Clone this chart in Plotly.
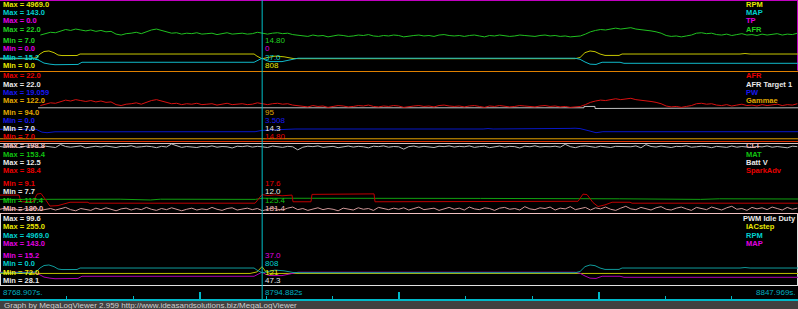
import numpy as np
import plotly.graph_objects as go

W, H = 798, 309

# ---------------- data ----------------
T0 = 8768.907          # first timestamp in view (s)
T1 = 8847.969          # last timestamp in view (s)
T_CURSOR = 8794.882    # cursor position (s)

NOISY_DT = 0.5         # sample spacing of the noisy channels (s)
AFR_START = 4.0        # AFR logging starts 4 s into the view

afr = [14.6, 14.9, 15.2, 15.1, 15.4,
       15.8, 15.6, 15.9, 15.7,
       15.5, 15.7, 15.4, 15.6, 15.3, 15.4,
       14.8, 14.6, 14.9,
       15.0, 15.2, 14.9, 15.3,
       15.7, 15.9, 15.6, 15.3,
       15.0, 15.1, 14.8, 15.0, 14.9, 15.1, 14.8,
       14.9, 15.0, 14.7, 14.9, 15.1, 14.8, 14.9, 15.0, 14.8, 14.9, 15.2, 15.0,
       14.8, 15.0, 15.1, 14.9, 15.0, 14.7, 14.6,
       14.5, 14.3, 14.6, 14.4, 14.5, 14.2, 14.4, 14.6, 14.5, 14.3,
       14.4, 14.6, 14.5, 14.7, 14.4, 14.3, 14.5, 14.4, 14.6, 14.5,
       14.2, 14.4, 14.5, 14.6, 14.4, 14.5, 14.3, 14.6, 14.7, 14.5,
       14.4, 14.5, 14.3, 14.5, 14.6, 14.4, 14.2, 14.5, 14.4, 14.6,
       14.5, 14.3, 14.4, 14.6, 14.5, 14.4, 14.3, 14.5, 14.6, 14.4,
       14.5, 14.3, 14.4, 14.2, 14.3, 14.4,
       14.8, 15.3,
       15.6, 15.8, 15.7, 15.9, 16.1, 15.9, 16.0, 16.2, 15.9, 15.8, 15.6, 15.5, 15.3, 15.0,
       14.5, 14.3, 14.4, 14.2, 14.4, 14.6,
       15.0, 15.1, 14.9, 15.0,
       14.7, 14.6, 14.8, 14.5, 14.7, 14.9, 14.6, 14.7, 14.5, 14.8, 14.6, 14.7, 14.9,
       14.6, 14.8, 14.7, 15.0]

batt_v = [12.26, 12.21, 12.29, 12.24, 12.18, 12.27, 12.31, 12.23, 12.20, 12.28,
          12.25, 12.19, 12.40, 12.26, 12.21, 12.24, 12.30, 12.17, 12.25, 12.28,
          12.22, 12.29, 12.24, 12.19, 12.27, 12.25, 12.31, 12.21, 12.24, 12.28,
          12.25, 12.18, 12.27, 12.23, 12.43, 12.29, 12.20, 12.26, 12.24, 12.19,
          12.27, 12.23, 12.30, 12.21, 12.26, 12.24, 12.16, 12.28, 12.25, 12.30,
          12.22, 12.27, 12.24, 12.19, 12.29, 12.25, 12.20, 12.27, 12.24, 12.03,
          12.21, 12.28, 12.25, 12.30, 12.20, 12.24, 12.27, 12.18, 12.25, 12.29,
          12.22, 12.27, 12.24, 12.17, 12.28, 12.25, 12.30, 12.21, 12.26, 12.24,
          12.08, 12.25, 12.29, 12.21, 12.27, 12.24, 12.19, 12.28, 12.25, 12.30,
          12.22, 12.27, 12.24, 12.30, 12.20, 12.25, 12.28, 12.18, 12.24, 12.29,
          12.21, 12.27, 12.25, 12.16, 12.28, 12.24, 12.31, 12.22, 12.26, 12.24,
          12.28, 12.21, 12.41, 12.25, 12.18, 12.27, 12.30, 12.23, 12.20, 12.28,
          12.25, 12.19, 12.27, 12.26, 12.21, 12.24, 12.30, 12.17, 12.39, 12.26,
          12.22, 12.29, 12.24, 12.19, 12.27, 12.25, 12.31, 12.21, 12.24, 12.28,
          12.25, 12.18, 12.27, 12.23, 12.20, 12.29, 12.21, 12.26, 12.24, 12.19,
          12.27, 12.23, 12.30, 12.21, 12.26, 12.24, 12.17, 12.28, 12.25]

clt = [181.0, 181.3, 180.8, 181.1, 180.6, 181.2, 180.9, 181.4, 180.7, 181.0,
       181.2, 180.8, 181.1, 181.5, 180.9, 180.6, 181.2, 181.0, 180.7, 181.3,
       180.9, 181.4, 181.0, 180.6, 181.1, 181.3, 180.8, 181.2, 180.9, 181.5,
       181.0, 180.7, 181.2, 180.9, 181.4, 181.1, 180.6, 181.0, 181.3, 180.8,
       181.1, 180.9, 181.5, 181.0, 180.7, 181.2, 181.4, 180.8, 181.0, 181.3,
       180.9, 181.2, 180.6, 181.1, 181.4, 181.0, 180.8, 181.3, 181.6, 180.9,
       181.2, 180.7, 181.1, 181.4, 180.9, 181.2, 181.0, 180.6, 181.3, 181.1,
       180.8, 181.4, 181.0, 181.2, 180.7, 181.5, 181.1, 180.9, 181.3, 181.0,
       181.4, 180.8, 181.2, 181.6, 180.9, 181.1, 181.3, 180.7, 181.2, 181.5,
       181.0, 181.3, 180.8, 181.6, 181.1, 180.9, 181.4, 181.2, 180.7, 181.3,
       181.5, 181.0, 181.2, 180.8, 181.7, 181.1, 180.9, 181.4, 181.2, 181.6,
       180.8, 181.3, 181.1, 181.7, 180.9, 181.2, 181.5, 180.8, 181.4, 181.1,
       181.6, 181.0, 180.7, 181.3, 181.8, 181.1, 180.9, 181.5, 181.2, 180.8,
       181.4, 181.7, 181.0, 180.8, 181.3, 181.6, 181.1, 180.7, 181.5, 181.2,
       180.9, 181.6, 181.3, 180.8, 181.4, 181.8, 181.0, 181.2, 180.7, 181.5,
       181.1, 181.4, 180.9, 181.6, 181.2, 180.8, 181.5, 181.0, 181.3]

# breakpoint channels: seconds after T0, value
rpm_t = [0.0, 2.97, 3.57, 3.96, 4.36, 4.85, 5.35, 5.75, 6.14, 7.63, 7.93, 14.86, 15.26,
         15.65, 25.17, 25.46, 25.96, 26.55, 27.25, 28.14, 29.03, 29.72, 40.62, 41.61,
         42.60, 56.97, 57.47, 57.96, 58.46, 58.95, 59.45, 59.94, 61.33, 61.63, 73.32,
         73.81, 74.31, 79.06]
rpm = [810, 815, 880, 1150, 1330, 1370, 1250, 1080, 1040, 1045, 1150, 1155, 1180,
       1150, 1150, 1000, 808, 900, 1000, 950, 830, 815, 810, 830,
       810, 815, 900, 1250, 1370, 1320, 1150, 1050, 1050, 1150, 1150,
       1185, 1150, 1150]

map_t = [0.0, 3.27, 3.77, 4.36, 4.95, 5.45, 7.73, 8.12, 25.17, 25.56, 25.96, 26.35,
         26.75, 27.94, 28.93, 29.53, 56.97, 57.47, 57.96, 58.46, 59.05, 59.65, 61.43,
         61.82, 79.06]
map_kpa = [37.0, 37.0, 34.0, 28.0, 26.0, 25.0, 25.5, 29.5, 29.5, 33.0, 37.0, 33.0,
           30.8, 30.8, 35.0, 37.0, 37.0, 35.0, 30.0, 26.0, 25.5, 29.5, 29.5,
           27.6, 27.6]

afr_tgt_t = [3.77, 5.55, 5.55, 7.43, 7.43, 57.86, 57.86, 58.95, 58.95, 61.23, 61.23, 79.06]
afr_tgt = [14.1, 14.1, 13.95, 13.95, 14.1, 14.1, 14.4, 14.4, 13.95, 13.95, 14.1, 14.1]

pw_t = [0.0, 3.57, 4.16, 4.66, 5.45, 25.27, 25.96, 27.25, 29.23, 47.86, 48.35, 48.85,
        52.02, 52.31, 53.50, 54.00, 56.48, 56.97, 57.47, 58.46, 59.05, 59.74, 79.06]
pw = [3.0, 3.0, 2.2, 2.05, 2.3, 2.33, 2.7, 2.85, 3.08, 3.08, 3.2, 3.08,
      3.08, 3.25, 3.25, 3.2, 3.25, 3.3, 3.2, 2.5, 2.05, 2.33, 2.33]

gammae_t = [0.0, 79.06]
gammae = [94.5, 94.5]

spark_t = [0.0, 1.88, 2.08, 3.27, 3.67, 4.06, 4.46, 4.95, 5.75, 6.44, 6.94, 8.72, 8.82,
           25.27, 25.66, 25.96, 26.55, 27.25, 27.94, 28.93, 29.03, 30.81, 30.91, 32.80,
           32.89, 37.06, 37.15, 57.27, 57.76, 58.16, 58.75, 59.25, 59.94, 60.64, 62.42,
           62.62, 79.06]
spark = [16.6, 16.6, 13.8, 13.8, 17.0, 17.3, 15.0, 12.0, 12.2, 13.0, 13.6, 13.6, 13.2,
         13.2, 15.5, 16.8, 16.4, 16.7, 16.3, 16.6, 13.8, 13.8, 16.9, 16.9,
         17.1, 17.1, 13.8, 14.0, 17.0, 16.8, 13.5, 11.8, 12.5, 13.6, 13.6,
         13.2, 13.2]

mat_t = [0.0, 11.9, 14.9, 15.9, 25.3, 26.0, 47.6, 55.5, 61.4, 69.4, 71.3, 79.06]
mat = [124.4, 124.5, 124.1, 124.5, 124.4, 125.0, 124.9, 124.9, 124.7, 124.4, 124.7, 124.6]

iac_t = [0.0, 24.77, 25.46, 25.96, 26.35, 26.75, 79.06]
iac = [100, 100, 104, 118, 104, 100, 100]

# channel scales (min, max) as shown in the labels
RNG = {
    "RPM": (0.0, 4969.0), "MAP": (15.2, 143.0), "AFR": (7.0, 22.0),
    "AFRT": (7.0, 22.0), "PW": (0.0, 19.059), "Gammae": (94.0, 122.0),
    "CLT": (180.0, 198.8), "MAT": (117.4, 153.4), "BattV": (7.7, 12.5),
    "Spark": (9.1, 38.4), "IAC": (72.0, 255.0),
}

# label text per panel (channel order)
p_names = [["RPM", "MAP", "TP", "AFR"],
           ["AFR", "AFR Target 1", "PW", "Gammae"],
           ["CLT", "MAT", "Batt V", "SparkAdv"],
           ["PWM Idle Duty", "IACstep", "RPM", "MAP"]]
p_max = [["4969.0", "143.0", "0.0", "22.0"],
         ["22.0", "22.0", "19.059", "122.0"],
         ["198.8", "153.4", "12.5", "38.4"],
         ["99.6", "255.0", "4969.0", "143.0"]]
p_min = [["0.0", "15.2", "0.0", "7.0"],
         ["7.0", "7.0", "0.0", "94.0"],
         ["180.0", "117.4", "7.7", "9.1"],
         ["28.1", "72.0", "0.0", "15.2"]]
p_cur = [["808", "37.0", "0", "14.80"],
         ["14.80", "14.3", "3.508", "95"],
         ["181.4", "125.4", "12.0", "17.6"],
         ["47.3", "121", "808", "37.0"]]
time_labels = ["8768.907s.", "8794.882s", "8847.969s."]
footer = "Graph by MegaLogViewer 2.959 http://www.ideasandsolutions.biz/MegaLogViewer"

# ---------------- styling ----------------
YEL, CYA, MAG, GRN = "#e8e800", "#00d0d0", "#e000e0", "#20d020"
RED, WHT, BLU, ORG = "#e80000", "#e8e8e8", "#1818f0", "#e0a800"
PNK, MGR = "#f0b8b8", "#10c010"
p_colors = [[YEL, CYA, MAG, GRN], [RED, WHT, BLU, ORG], [PNK, MGR, WHT, RED], [WHT, YEL, CYA, MAG]]

FONT = "Liberation Sans, Arial, sans-serif"
LBL_SIZE = 7.5


def yp(px):
    return 1 - px / H


def xp(px):
    return px / W


def abs_t(offs):
    return [T0 + o for o in offs]


t_afr = T0 + AFR_START + NOISY_DT * np.arange(len(afr))
t_noisy = T0 + NOISY_DT * np.arange(len(batt_v))

panels = [
    dict(top=1, bottom=70, traces=[
        (abs_t(rpm_t), rpm, RNG["RPM"], "#c8c800"),
        (abs_t(map_t), map_kpa, RNG["MAP"], "#10b8c8"),
        (t_afr, afr, RNG["AFR"], "#20c020"),
    ]),
    dict(top=72, bottom=140, traces=[
        (abs_t(gammae_t), gammae, RNG["Gammae"], "#e0a000"),
        (abs_t(pw_t), pw, RNG["PW"], "#0818c8"),
        (abs_t(afr_tgt_t), afr_tgt, RNG["AFRT"], "#c0c0c0"),
        (t_afr, afr, RNG["AFR"], "#d81010"),
    ]),
    dict(top=143, bottom=213, traces=[
        (t_noisy, clt, RNG["CLT"], "#d09898"),
        (abs_t(mat_t), mat, RNG["MAT"], "#10a010"),
        (t_noisy, batt_v, RNG["BattV"], "#bcbcbc"),
        (abs_t(spark_t), spark, RNG["Spark"], "#c00000"),
    ]),
    dict(top=215, bottom=284, traces=[
        (abs_t(iac_t), iac, RNG["IAC"], "#c0c000"),
        (abs_t(map_t), map_kpa, RNG["MAP"], "#b000b0"),
        (abs_t(rpm_t), rpm, RNG["RPM"], "#109c9c"),
    ]),
]

fig = go.Figure()
axes = {}
n = 0
for p in panels:
    base = None
    for xs, ys, rng, col in p["traces"]:
        n += 1
        key = "yaxis" if n == 1 else f"yaxis{n}"
        ref = "y" if n == 1 else f"y{n}"
        ax = dict(range=list(rng), visible=False, fixedrange=True, showgrid=False,
                  zeroline=False, anchor="x")
        if base is None:
            ax["domain"] = [yp(p["bottom"]), yp(p["top"])]
            base = ref
        else:
            ax["overlaying"] = base
        axes[key] = ax
        fig.add_trace(go.Scatter(x=xs, y=ys, xaxis="x", yaxis=ref, mode="lines",
                                 line=dict(color=col, width=1), hoverinfo="skip",
                                 showlegend=False))

span = T1 - T0
fig.update_layout(
    width=W, height=H, margin=dict(l=0, r=0, t=0, b=0),
    paper_bgcolor="black", plot_bgcolor="rgba(0,0,0,0)",
    showlegend=False,
    xaxis=dict(range=[T0, T1], domain=[0, 1], anchor="free", position=yp(299.5),
               showline=True, linecolor="#00b8c8", linewidth=1.5,
               showgrid=False, zeroline=False, showticklabels=False,
               tickmode="linear", tick0=T0, dtick=span / 4, ticks="inside",
               ticklen=7, tickwidth=2, tickcolor="#00b8c8", fixedrange=True,
               minor=dict(tickmode="linear", tick0=T0, dtick=span / 12, ticks="inside",
                          ticklen=3, tickwidth=1, tickcolor="#00b8c8", showgrid=False)),
    **axes,
)


# ---- frame lines ----
def hline(ypx, color, x0=0, x1=W, width=1):
    fig.add_shape(type="line", xref="paper", yref="paper", x0=xp(x0), x1=xp(x1),
                  y0=yp(ypx), y1=yp(ypx), line=dict(color=color, width=width), layer="below")


def vline(xpx, y0, y1, color, width=1):
    fig.add_shape(type="line", xref="paper", yref="paper", x0=xp(xpx), x1=xp(xpx),
                  y0=yp(y0), y1=yp(y1), line=dict(color=color, width=width), layer="below")


hline(0.5, "#c000c0")
vline(797.5, 0, 70.5, "#c000c0")
hline(71.5, "#e08000")
hline(141.5, "#e03000")
hline(143.5, "#d8c0c0")
hline(213.5, "#f0c0c0")
vline(0.5, 214, 285.5, "#e0e0e0")
vline(797.5, 214, 285.5, "#e0e0e0")
hline(285.5, "#e0e0e0")

# footer bar
fig.add_shape(type="rect", xref="paper", yref="paper", x0=0, x1=1, y0=0, y1=yp(300.6),
              fillcolor="#404040", line=dict(width=0), layer="below")

# cursor
fig.add_shape(type="line", xref="x", yref="paper", x0=T_CURSOR, x1=T_CURSOR,
              y0=yp(300), y1=1, line=dict(color="#00c0c8", width=1))


def label(text, xpx, ypx, color, bold=True, anchor="left", size=LBL_SIZE, family=FONT):
    fig.add_annotation(x=xp(xpx), y=yp(ypx), xref="paper", yref="paper",
                       text=f"<b>{text}</b>" if bold else text, showarrow=False,
                       xanchor=anchor, yanchor="middle", borderpad=0,
                       font=dict(family=family, size=size, color=color))


max_rows = [[4.5, 12.7, 20.9, 29.1], [75.8, 84.0, 92.2, 100.4],
            [146.0, 154.2, 162.4, 170.6], [218.6, 226.8, 235.0, 243.2]]
min_rows = [[40.6, 48.8, 57.0, 65.2], [112.4, 120.6, 128.8, 137.0],
            [183.6, 191.8, 200.0, 208.2], [255.6, 263.8, 272.0, 280.2]]

cursor_x = (T_CURSOR - T0) / span * W
for k in range(4):
    cols = p_colors[k]
    for j in range(4):
        label(f"Max = {p_max[k][j]}", 2, max_rows[k][j], cols[j])
        if k == 3 and j == 0:
            label(p_names[k][j], 797, max_rows[k][j], cols[j], anchor="right")
        else:
            label(p_names[k][j], 745, max_rows[k][j], cols[j])
    for j in range(4):
        c = 3 - j
        label(f"Min = {p_min[k][c]}", 2, min_rows[k][j], cols[c])
        label(p_cur[k][c], cursor_x + 2, min_rows[k][j], cols[c], bold=False, size=8)

label(time_labels[0], 2, 292, "#00b0c0", bold=False, size=8)
label(time_labels[1], cursor_x + 2, 292, "#00b0c0", bold=False, size=8)
label(time_labels[2], 797, 292, "#00b0c0", bold=False, anchor="right", size=8)
label(footer, 3, 305, "#d0d0d0", bold=False, size=8)

fig.write_html("out.html", config={"displayModeBar": False})
